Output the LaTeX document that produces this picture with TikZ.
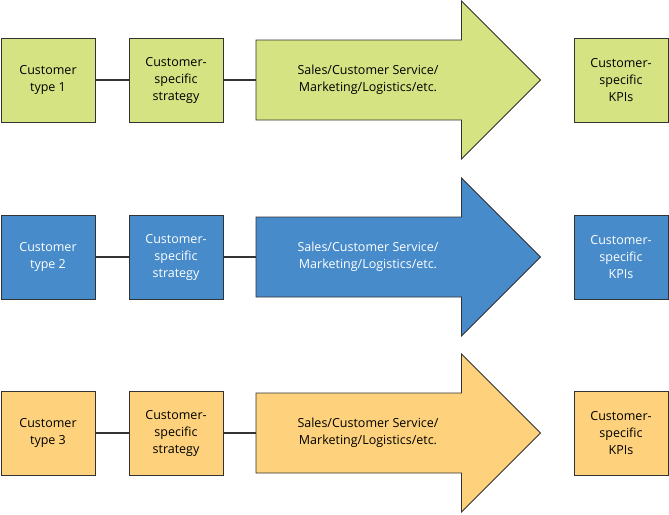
\documentclass[tikz,border=0pt]{standalone}
\usepackage{fontspec}
\setmainfont{Open Sans}
\definecolor{cgreen}{HTML}{D6E382}
\definecolor{cblue}{HTML}{478BCB}
\definecolor{corange}{HTML}{FED27C}
\definecolor{cline}{HTML}{333333}
\begin{document}
\begin{tikzpicture}[x=1pt,y=-1pt,
  box/.style={draw=cline, line width=1pt, minimum width=94pt, minimum height=84pt, inner sep=0pt, align=center, font=\fontsize{12.5}{17}\selectfont},
  body/.style={draw=none, minimum width=205pt, minimum height=80pt, inner sep=0pt},
  arrowtext/.style={align=center, inner sep=0pt, font=\fontsize{12.5}{17}\selectfont},
  link/.style={draw=cline, line width=1.4pt},
  bigarrow/.style={draw=cline, line width=0.8pt, line join=miter}]
\useasboundingbox (0,0) rectangle (669,514);
\foreach \i/\y/\fc/\tc/\n in {1/80/cgreen/black/1, 2/257/cblue/white/2, 3/433/corange/black/3} {
  \node[box, fill=\fc, text=\tc] (c\i) at (48,\y) {Customer\\type \n};
  \node[box, fill=\fc, text=\tc] (s\i) at (176,\y) {Customer-\\specific\\strategy};
  \filldraw[bigarrow, fill=\fc] (256,\y-40) -- (461.5,\y-40) -- (461.5,\y-79) -- (540.5,\y) -- (461.5,\y+79) -- (461.5,\y+40) -- (256,\y+40) -- cycle;
  \node[body] (a\i) at (358.75,\y) {};
  \node[arrowtext, text=\tc] (t\i) at (368,\y) {Sales/Customer Service/\\Marketing/Logistics/etc.};
  \node[box, fill=\fc, text=\tc] (k\i) at (621,\y) {Customer-\\specific\\KPIs};
  \draw[link] (c\i) -- (s\i);
  \draw[link] (s\i) -- (a\i);
}
\end{tikzpicture}
\end{document}
